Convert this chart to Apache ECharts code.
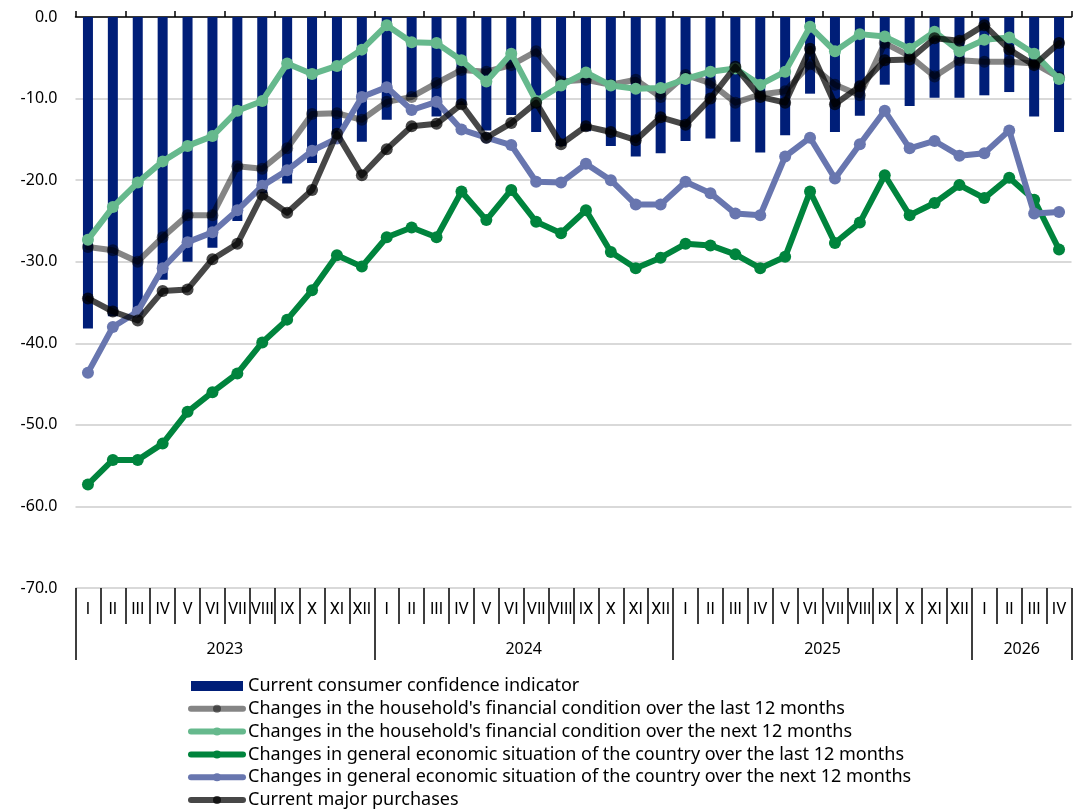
<!DOCTYPE html>
<html>
<head>
<meta charset="utf-8">
<script src="https://cdn.jsdelivr.net/npm/echarts@6/dist/echarts.min.js"></script>
<style>html,body{margin:0;padding:0;background:#fff;}#c{width:1080px;height:811px;}</style>
</head>
<body>
<div id="c"></div>
<script>
const months = ['I','II','III','IV','V','VI','VII','VIII','IX','X','XI','XII',
  'I','II','III','IV','V','VI','VII','VIII','IX','X','XI','XII',
  'I','II','III','IV','V','VI','VII','VIII','IX','X','XI','XII',
  'I','II','III','IV'];
const years = ['2023','2024','2025','2026'];
const monthsPerYear = [12,12,12,4];

const cci = [-38.2,-36.7,-36.3,-32.2,-30.0,-28.3,-25.0,-21.6,-20.4,-17.9,-14.5,-15.3,
  -12.6,-9.8,-12.2,-10.8,-13.9,-12.0,-14.1,-15.8,-14.0,-15.8,-17.1,-16.7,
  -15.2,-14.9,-15.3,-16.6,-14.5,-9.4,-14.1,-12.1,-8.3,-10.9,-9.9,-9.9,
  -9.6,-9.2,-12.2,-14.1];
const hhLast = [-28.2,-28.6,-30.0,-27.0,-24.3,-24.3,-18.3,-18.6,-16.1,-11.9,-11.8,-12.6,
  -10.4,-9.8,-8.1,-6.5,-6.7,-5.9,-4.2,-7.9,-7.7,-8.3,-7.7,-9.8,
  -7.1,-8.1,-10.5,-9.5,-9.1,-5.8,-8.3,-9.6,-3.2,-4.8,-7.3,-5.3,
  -5.5,-5.5,-5.7,-7.4];
const hhNext = [-27.3,-23.3,-20.3,-17.7,-15.8,-14.6,-11.5,-10.3,-5.7,-7.0,-6.0,-4.0,
  -1.0,-3.1,-3.2,-5.3,-7.9,-4.5,-10.3,-8.4,-6.8,-8.4,-8.8,-8.7,
  -7.6,-6.7,-6.3,-8.3,-6.7,-1.2,-4.2,-2.1,-2.4,-3.9,-1.8,-4.2,
  -2.8,-2.5,-4.5,-7.6];
const ctryLast = [-57.3,-54.3,-54.3,-52.3,-48.4,-46.0,-43.7,-39.9,-37.1,-33.5,-29.2,-30.6,
  -27.0,-25.8,-27.0,-21.4,-24.9,-21.2,-25.1,-26.5,-23.7,-28.8,-30.8,-29.5,
  -27.8,-28.0,-29.1,-30.8,-29.4,-21.4,-27.7,-25.2,-19.4,-24.3,-22.8,-20.6,
  -22.2,-19.7,-22.4,-28.5];
const ctryNext = [-43.6,-38.0,-36.1,-30.8,-27.6,-26.4,-23.7,-20.7,-18.8,-16.4,-14.9,-9.8,
  -8.6,-11.4,-10.4,-13.8,-14.8,-15.7,-20.2,-20.3,-18.0,-20.0,-23.0,-23.0,
  -20.2,-21.6,-24.1,-24.3,-17.1,-14.8,-19.8,-15.6,-11.5,-16.1,-15.2,-17.0,
  -16.7,-13.9,-24.1,-23.9];
const purchases = [-34.5,-36.1,-37.2,-33.6,-33.4,-29.7,-27.8,-21.8,-24.0,-21.2,-14.3,-19.4,
  -16.2,-13.4,-13.1,-10.7,-14.8,-13.0,-10.5,-15.6,-13.4,-14.1,-15.1,-12.3,
  -13.2,-10.0,-6.1,-9.8,-10.5,-3.9,-10.7,-8.5,-5.3,-5.2,-2.6,-2.9,
  -1.0,-4.0,-5.9,-3.2];

const names = [
  'Current consumer confidence indicator',
  "Changes in the household's financial condition over the last 12 months",
  "Changes in the household's financial condition over the next 12 months",
  'Changes in general economic situation of the country over the last 12 months',
  'Changes in general economic situation of the country over the next 12 months',
  'Current major purchases'
];

// year boundaries and centres derived from month counts
const yearBounds = [0];
const yearCenters = [];
monthsPerYear.forEach((n, i) => { yearCenters.push(yearBounds[i] + n / 2); yearBounds.push(yearBounds[i] + n); });

const FONT = 'Noto Sans';
function lineSeries(name, data, color, z) {
  return {
    name, type: 'line', data, xAxisIndex: 0, yAxisIndex: 0,
    symbol: 'circle', symbolSize: 12, z,
    lineStyle: { width: 6, color, cap: 'round', join: 'round' },
    itemStyle: { color },
    emphasis: { disabled: true }
  };
}

const chart = echarts.init(document.getElementById('c'), null, { renderer: 'canvas' });
chart.setOption({
  animation: false,
  textStyle: { fontFamily: FONT },
  grid: { left: 75.5, right: 8.5, top: 17, bottom: 223, containLabel: false },
  legend: {
    orient: 'vertical', left: 188, top: 676, height: 160, padding: 0,
    itemWidth: 52, itemHeight: 10, itemGap: 2.8,
    lineStyle: { width: 6, cap: 'round' },
    textStyle: { fontFamily: FONT, fontSize: 18, color: '#000', lineHeight: 20 },
    data: [{ name: names[0], icon: 'rect' }, names[1], names[2], names[3], names[4], names[5]],
    selectedMode: false
  },
  xAxis: [
    {
      type: 'category', data: months, position: 'top', boundaryGap: true,
      axisLine: { show: true, onZero: false, lineStyle: { color: '#000', width: 1.5 } },
      axisTick: { show: true, length: 6, inside: false, lineStyle: { color: '#000', width: 1.5 } },
      axisLabel: { show: false }, splitLine: { show: false }
    },
    {
      type: 'category', data: months, position: 'bottom', boundaryGap: true,
      axisLine: { show: false, onZero: false },
      axisTick: { show: true, length: 36, interval: 0, lineStyle: { color: '#000', width: 1.5 } },
      axisLabel: { show: true, interval: 0, margin: 14, fontSize: 16, color: '#000', fontFamily: 'Roboto' },
      splitLine: { show: false }
    },
    {
      type: 'value', min: 0, max: 40, position: 'bottom',
      axisLine: { show: false, onZero: false },
      axisTick: { show: true, customValues: yearBounds, length: 72, lineStyle: { color: '#000', width: 1.5 } },
      axisLabel: { show: true, customValues: yearCenters, margin: 53, fontSize: 16, color: '#000', fontFamily: FONT,
        formatter: v => { const i = yearCenters.indexOf(v); return i >= 0 ? years[i] : ''; } },
      splitLine: { show: false }
    }
  ],
  yAxis: {
    type: 'value', min: -70, max: 0, interval: 10,
    axisLine: { show: false }, axisTick: { show: false },
    axisLabel: { fontSize: 16, color: '#000', margin: 18, fontFamily: FONT, formatter: v => v.toFixed(1) },
    splitLine: { show: true, lineStyle: { color: '#d9d9d9', width: 2 } }
  },
  series: [
    { name: names[0], type: 'bar', data: cci, xAxisIndex: 0, yAxisIndex: 0, barWidth: 10,
      itemStyle: { color: '#001E78' }, z: 2, emphasis: { disabled: true } },
    lineSeries(names[1], hhLast, 'rgba(0,0,0,0.48)', 3),
    lineSeries(names[2], hhNext, '#66B98D', 4),
    lineSeries(names[3], ctryLast, '#00843D', 5),
    lineSeries(names[4], ctryNext, '#6876AF', 6),
    lineSeries(names[5], purchases, 'rgba(0,0,0,0.72)', 7)
  ]
});
</script>
</body>
</html>
